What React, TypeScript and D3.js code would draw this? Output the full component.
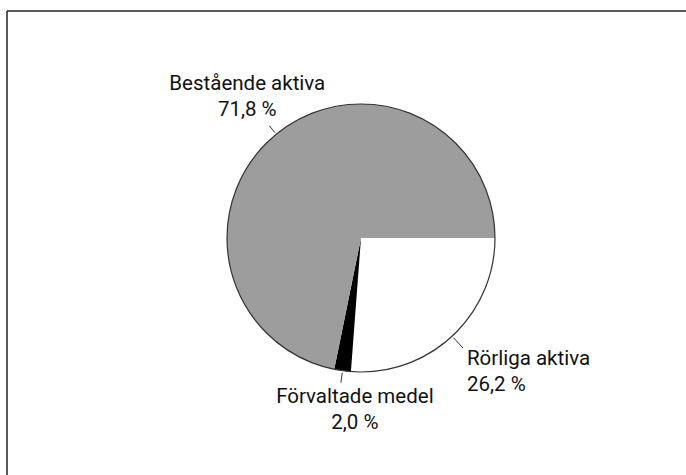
import * as d3 from 'd3';

const W = 686;
const H = 475;

// data
const labels = ['Rörliga aktiva', 'Förvaltade medel', 'Bestående aktiva'];
const values = [26.2, 2.0, 71.8];
const fills = ['#ffffff', '#000000', '#9d9d9d'];

const cx = 361;
const cy = 238;
const radius = 134;

// label layout: anchor + offset from the end of the leader line
const anchors = ['start', 'middle', 'middle'];
const offsets = [
    [4, 17],
    [14, 20],
    [-22, -36],
];
const leaderOuter = [150, 146, 145];

const fmt = (v: number) => v.toFixed(1).replace('.', ',') + ' %';

export default function App() {
    const pie = d3
        .pie<number>()
        .sort(null)
        .startAngle(Math.PI / 2)
        .endAngle(Math.PI / 2 + 2 * Math.PI);
    const arcs = pie(values);
    const arcGen = d3.arc<d3.PieArcDatum<number>>().innerRadius(0).outerRadius(radius);

    return (
        <svg
            width={W}
            height={H}
            style={{ position: 'absolute', left: 0, top: 0, background: '#fff' }}
            fontFamily="Roboto, 'Liberation Sans', sans-serif"
        >
            {/* frame: only top and left edges are visible */}
            <line x1={7} y1={11} x2={W} y2={11} stroke="#222" strokeWidth={1.5} />
            <line x1={7} y1={11} x2={7} y2={H} stroke="#222" strokeWidth={1.5} />

            <g transform={`translate(${cx},${cy})`}>
                {arcs.map((a, i) => (
                    <path key={i} d={arcGen(a) || ''} fill={fills[i]} stroke="none" />
                ))}
                {/* outline of the disc */}
                <circle r={radius} fill="none" stroke="#333" strokeWidth={1.2} />
                {arcs.map((a, i) => {
                    const mid = (a.startAngle + a.endAngle) / 2;
                    const x0 = (radius + 2) * Math.sin(mid);
                    const y0 = -(radius + 2) * Math.cos(mid);
                    const x1 = leaderOuter[i] * Math.sin(mid);
                    const y1 = -leaderOuter[i] * Math.cos(mid);
                    const tx = x1 + offsets[i][0];
                    const ty = y1 + offsets[i][1];
                    return (
                        <g key={'l' + i}>
                            <line x1={x0} y1={y0} x2={x1} y2={y1} stroke="#333" strokeWidth={1} />
                            <text
                                x={tx}
                                y={ty}
                                textAnchor={anchors[i]}
                                fontSize={20.5}
                                fill="#111"
                            >
                                <tspan x={tx} dy={0}>{labels[i]}</tspan>
                                <tspan x={tx} dy={26}>{fmt(values[i])}</tspan>
                            </text>
                        </g>
                    );
                })}
            </g>
        </svg>
    );
}
